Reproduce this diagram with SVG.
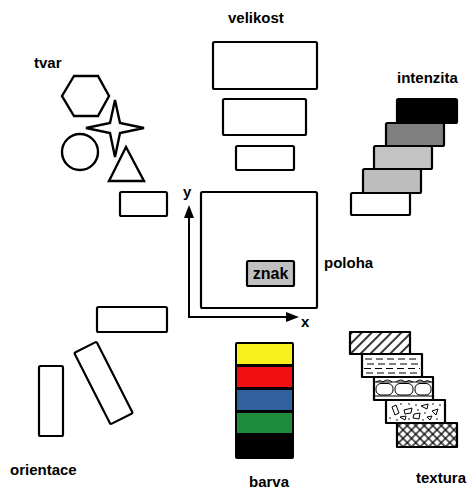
<svg xmlns="http://www.w3.org/2000/svg" width="469" height="490" viewBox="0 0 469 490">
  <style>
    .lbl { font-family: "Liberation Sans", Arial, sans-serif; font-weight: bold; font-size: 15px; fill: #000; }
    .box { fill: #fff; stroke: #000; stroke-width: 2.2; stroke-linejoin: round; }
    .shape { fill: #fff; stroke: #000; stroke-width: 2.4; stroke-linejoin: miter; }
    .axis { fill: none; stroke: #000; stroke-width: 2; }
    .thin { fill: none; stroke: #000; stroke-width: 1; }
  </style>
  <defs>
    <pattern id="hatch" patternUnits="userSpaceOnUse" width="7" height="7" patternTransform="rotate(45)">
      <rect width="7" height="7" fill="#fff"/>
      <line x1="1" y1="0" x2="1" y2="7" stroke="#000" stroke-width="1.6"/>
    </pattern>
    <pattern id="cross" patternUnits="userSpaceOnUse" width="6" height="6" patternTransform="rotate(45)">
      <rect width="6" height="6" fill="#fff"/>
      <line x1="1" y1="0" x2="1" y2="6" stroke="#000" stroke-width="1.3"/>
      <line x1="0" y1="1" x2="6" y2="1" stroke="#000" stroke-width="1.3"/>
    </pattern>
  </defs>

  <!-- labels -->
  <g id="labels">
    <text class="lbl" x="228" y="23">velikost</text>
    <text class="lbl" x="34" y="68">tvar</text>
    <text class="lbl" x="397" y="83">intenzita</text>
    <text class="lbl" x="324" y="268">poloha</text>
    <text class="lbl" x="10" y="475">orientace</text>
    <text class="lbl" x="249" y="487">barva</text>
    <text class="lbl" x="416" y="483">textura</text>
  </g>

  <!-- size: three shrinking boxes -->
  <g id="velikost">
    <rect class="box" x="213" y="42" width="104" height="47" rx="1.5"/>
    <rect class="box" x="223" y="99" width="83" height="36" rx="1.5"/>
    <rect class="box" x="236" y="146" width="58" height="24" rx="1.5"/>
  </g>

  <!-- shape: hexagon, star, circle, triangle, box -->
  <g id="tvar">
    <polygon class="shape" points="62,96 74,76 98,76 109,96 98,116 74,116"/>
    <path class="shape" d="M115,100 L120,123 L144,128 L120,133 L115,157 L110,133 L86,128 L110,123 Z"/>
    <circle class="shape" cx="80" cy="152" r="18"/>
    <polygon class="shape" points="126,147 144,181 109,181"/>
    <rect class="box" x="120" y="192" width="47" height="24" rx="1.5"/>
  </g>

  <!-- intensity: staircase of grey levels -->
  <g id="intenzita">
    <rect class="box" x="351" y="193" width="59" height="22" rx="1.5"/>
    <rect class="box" x="363" y="169" width="58" height="24" rx="1.5" style="fill:#bdbdbd"/>
    <rect class="box" x="374" y="146" width="58" height="23" rx="1.5" style="fill:#c4c4c4"/>
    <rect class="box" x="386" y="123" width="58" height="23" rx="1.5" style="fill:#808080"/>
    <rect class="box" x="397" y="99" width="60" height="24" rx="1.5" style="fill:#000"/>
  </g>

  <!-- position: frame with a marker inside -->
  <g id="poloha">
    <rect class="box" x="201" y="192" width="116" height="116" rx="1.5"/>
    <rect class="box" x="247" y="261" width="47" height="25" rx="1.5" style="fill:#c0c0c0"/>
    <text class="lbl" x="270.5" y="279" text-anchor="middle" style="font-size:16px">znak</text>
  </g>

  <!-- coordinate axes -->
  <g id="connectors">
    <polyline class="axis" points="189,218 189,317 287,317"/>
    <polygon points="189,205 184,218 194,218" fill="#000"/>
    <polygon points="299,317 286,312 286,322" fill="#000"/>
    <text class="lbl" x="183" y="197">y</text>
    <text class="lbl" x="301" y="327">x</text>
  </g>

  <!-- orientation: horizontal, tilted and vertical boxes -->
  <g id="orientace">
    <rect class="box" x="97" y="307" width="70" height="25" rx="1.5"/>
    <rect class="box" x="-12.5" y="-40" width="25" height="80" rx="1.5" transform="translate(103.5 383) rotate(-27)"/>
    <rect class="box" x="39" y="366" width="24" height="70" rx="1.5"/>
  </g>

  <!-- colour: stacked hues -->
  <g id="barva">
    <rect x="235" y="342" width="59" height="117" rx="2" fill="#000"/>
    <rect x="237" y="344" width="55" height="20" fill="#f5f01e"/>
    <rect x="237" y="367" width="55" height="20" fill="#f01010"/>
    <rect x="237" y="390" width="55" height="20" fill="#3060a0"/>
    <rect x="237" y="413" width="55" height="20" fill="#1e8c3c"/>
  </g>

  <!-- texture: staircase of fill patterns -->
  <g id="textura">
    <rect class="box" x="397" y="423" width="60" height="24" style="fill:url(#cross)"/>

    <g id="concrete">
      <rect class="box" x="386" y="400" width="59" height="23"/>
      <g class="thin">
        <polygon points="392,407 396,405 399,413 395,415"/>
        <polygon points="404,410 412,408 411,413 405,414"/>
        <polygon points="421,406 428,404 427,409"/>
        <polygon points="414,414 420,413 419,419 413,418"/>
        <polygon points="400,417 406,416 405,420"/>
        <polygon points="432,411 438,409 436,415"/>
        <polygon points="427,417 432,416 430,420"/>
      </g>
      <g fill="#000">
        <circle cx="390" cy="418" r="0.8"/>
        <circle cx="401" cy="404" r="0.8"/>
        <circle cx="409" cy="404" r="0.8"/>
        <circle cx="416" cy="405" r="0.8"/>
        <circle cx="418" cy="410" r="0.8"/>
        <circle cx="433" cy="404" r="0.8"/>
        <circle cx="440" cy="405" r="0.8"/>
        <circle cx="425" cy="413" r="0.8"/>
        <circle cx="409" cy="419" r="0.8"/>
        <circle cx="397" cy="420" r="0.8"/>
        <circle cx="437" cy="419" r="0.8"/>
        <circle cx="423" cy="420" r="0.8"/>
      </g>
    </g>

    <g id="gravel">
      <rect class="box" x="374" y="377" width="59" height="23"/>
      <g class="thin">
        <line x1="374" y1="382" x2="433" y2="382"/>
        <line x1="374" y1="396" x2="433" y2="396"/>
        <path d="M376,382 Q380,379 383,382 Q387,378 392,382 M396,382 Q401,378 405,382 Q409,379 413,382 M416,382 Q420,378 424,382 Q427,379 431,382"/>
        <rect x="376" y="383.5" width="17" height="11.5" rx="5"/>
        <rect x="395" y="383.5" width="18" height="11.5" rx="5"/>
        <rect x="415" y="383.5" width="16" height="11.5" rx="5"/>
      </g>
    </g>

    <g id="marsh">
      <rect class="box" x="362" y="354" width="60" height="23"/>
      <g class="thin">
        <line x1="365" y1="359" x2="420" y2="359" stroke-dasharray="7 4"/>
        <line x1="367" y1="364" x2="420" y2="364" stroke-dasharray="7 4"/>
        <line x1="364" y1="368.5" x2="420" y2="368.5" stroke-dasharray="7 4"/>
        <line x1="366" y1="373" x2="420" y2="373" stroke-dasharray="7 4"/>
      </g>
    </g>

    <rect class="box" x="350" y="332" width="60" height="22" style="fill:url(#hatch)"/>
  </g>
</svg>
